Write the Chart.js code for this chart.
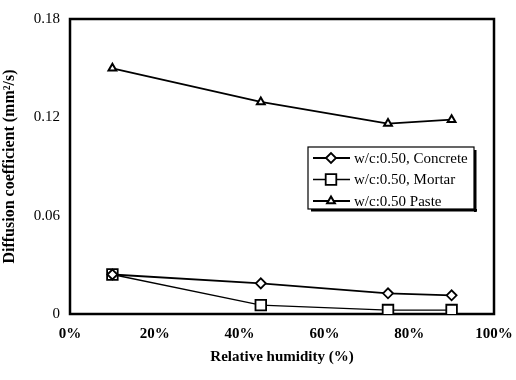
<!DOCTYPE html>
<html>
<head>
<meta charset="utf-8">
<script src="https://cdn.jsdelivr.net/npm/chart.js@4"></script>
<style>
body { margin: 0; background: #fff; }
#wrap { width: 516px; height: 380px; }
</style>
</head>
<body>
<div id="wrap"><canvas id="myChart"></canvas></div>
<script>
// values
const humidity = [10, 45, 75, 90]
const concrete = [0.0241, 0.0187, 0.0126, 0.0114]
const mortar = [0.0241, 0.0054, 0.0024, 0.0024]
const paste = [0.1499, 0.1294, 0.1162, 0.1186]
const seriesNames = ['w/c:0.50, Concrete', 'w/c:0.50, Mortar', 'w/c:0.50 Paste']
const yTicks = [0, 0.06, 0.12, 0.18]
const yTickLabels = ['0', '0.06', '0.12', '0.18']
const xTicks = [0, 20, 40, 60, 80, 100]

const serif = "'Liberation Serif', 'Times New Roman', serif"
const toPoints = vals => humidity.map((h, i) => ({ x: h, y: vals[i] }))

// box round the plot area
const frame = {
    id: 'frame',
    beforeDatasetsDraw(chart) {
        const { ctx, chartArea: a } = chart
        ctx.save()
        ctx.strokeStyle = '#000'
        ctx.lineWidth = 2.5
        ctx.strokeRect(a.left, a.top, a.right - a.left, a.bottom - a.top)
        ctx.restore()
    }
}

// legend box with line+marker samples, like the original
const boxLegend = {
    id: 'boxLegend',
    afterDraw(chart) {
        const ctx = chart.ctx
        const x0 = 308, y0 = 147, w = 166, h = 62
        ctx.save()
        ctx.fillStyle = '#000'
        ctx.fillRect(x0 + 3, y0 + h, w, 2.5)
        ctx.fillRect(x0 + w, y0 + 3, 2.5, h)
        ctx.fillStyle = '#fff'
        ctx.fillRect(x0, y0, w, h)
        ctx.strokeStyle = '#000'
        ctx.lineWidth = 1.2
        ctx.strokeRect(x0, y0, w, h)
        chart.data.datasets.forEach((ds, i) => {
            const y = y0 + 11 + i * 21.5
            ctx.strokeStyle = '#000'
            ctx.lineWidth = ds.borderWidth
            ctx.beginPath()
            ctx.moveTo(313, y)
            ctx.lineTo(350, y)
            ctx.stroke()
            ctx.fillStyle = '#fff'
            ctx.lineWidth = ds.pointBorderWidth
            Chart.helpers.drawPoint(ctx, { pointStyle: ds.pointStyle, radius: ds.pointRadius, borderWidth: ds.pointBorderWidth }, 331, y)
            ctx.fillStyle = '#000'
            ctx.font = '15px ' + serif
            ctx.textBaseline = 'middle'
            ctx.fillText(ds.label, 354, y + 1)
        })
        ctx.restore()
    }
}

const line = {
    type: 'line',
    data: {
        datasets: [
            {
                label: seriesNames[0],
                data: toPoints(concrete),
                borderColor: '#000',
                borderWidth: 1.8,
                pointStyle: 'rectRot',
                pointRadius: 5,
                pointBorderWidth: 1.8,
                pointBackgroundColor: '#fff',
                pointBorderColor: '#000'
            },
            {
                label: seriesNames[1],
                data: toPoints(mortar),
                borderColor: '#000',
                borderWidth: 1.3,
                pointStyle: 'rect',
                pointRadius: 7.5,
                pointBorderWidth: 1.8,
                pointBackgroundColor: '#fff',
                pointBorderColor: '#000'
            },
            {
                label: seriesNames[2],
                data: toPoints(paste),
                borderColor: '#000',
                borderWidth: 1.8,
                pointStyle: 'triangle',
                pointRadius: 4.5,
                pointBorderWidth: 2,
                pointBackgroundColor: '#fff',
                pointBorderColor: '#000'
            }
        ]
    },
    options: {
        responsive: true,
        maintainAspectRatio: false,
        animation: false,
        layout: { padding: { top: 14, right: 22, left: 0, bottom: 0 } },
        plugins: {
            legend: { display: false },
            tooltip: { enabled: false }
        },
        scales: {
            x: {
                type: 'linear',
                min: 0,
                max: 100,
                afterBuildTicks: s => { s.ticks = xTicks.map(v => ({ value: v })) },
                afterFit: s => {
                    s.height = 66
                    s.paddingLeft = 0
                    s.paddingRight = 0
                },
                grid: { display: false, drawTicks: false },
                border: { display: false },
                ticks: {
                    padding: 11,
                    color: '#000',
                    font: { family: serif, size: 15, weight: 'bold' },
                    callback: v => v + '%'
                },
                title: {
                    display: true,
                    text: 'Relative humidity (%)',
                    color: '#000',
                    font: { family: serif, size: 15, weight: 'bold' },
                    padding: { top: 0, bottom: 14 }
                }
            },
            y: {
                min: 0,
                max: 0.18,
                afterBuildTicks: s => { s.ticks = yTicks.map(v => ({ value: v })) },
                afterFit: s => { s.width = 70 },
                grid: { display: false, drawTicks: false },
                border: { display: false },
                ticks: {
                    padding: 10,
                    color: '#000',
                    font: { family: serif, size: 15 },
                    callback: (v, i) => yTickLabels[i]
                },
                title: {
                    display: true,
                    text: 'Diffusion coefficient (mm²/s)',
                    color: '#000',
                    font: { family: serif, size: 16, weight: 'bold' },
                    padding: { top: 0, bottom: 0 }
                }
            }
        }
    },
    plugins: [frame, boxLegend]
}

new Chart(
    document.getElementById('myChart'), line
);
</script>
</body>
</html>
